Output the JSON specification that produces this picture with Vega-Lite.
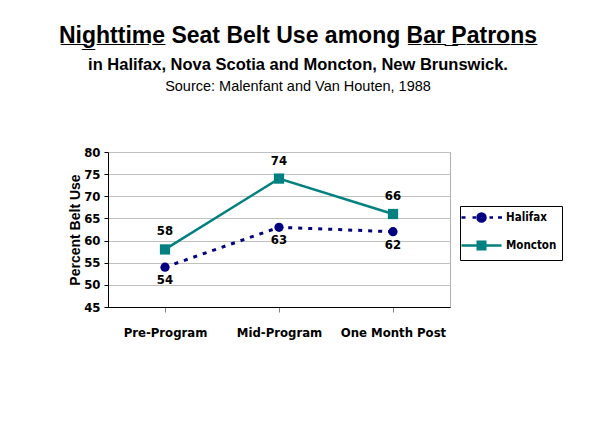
{
  "$schema": "https://vega.github.io/schema/vega-lite/v6.json",
  "background": "white",
  "padding": {"left": 59, "top": 24, "right": 10, "bottom": 10},
  "autosize": {"type": "pad"},
  "title": {
    "text": "N̲i̲g̲h̲t̲t̲i̲m̲e̲ Seat Belt Use among B̲a̲r̲ ̲P̲a̲t̲r̲o̲n̲s̲",
    "subtitle": "in Halifax, Nova Scotia and Moncton, New Brunswick.",
    "font": "Liberation Sans",
    "fontSize": 23,
    "fontWeight": "bold",
    "color": "black",
    "subtitleFont": "Liberation Sans",
    "subtitleFontSize": 16.5,
    "subtitleFontWeight": "bold",
    "subtitleColor": "black",
    "subtitlePadding": 9,
    "anchor": "middle",
    "frame": "group",
    "dx": 19,
    "offset": 5
  },
  "vconcat": [
    {
      "title": {
        "text": "Source: Malenfant and Van Houten, 1988",
        "font": "Liberation Sans",
        "fontSize": 14.5,
        "fontWeight": "normal",
        "color": "black",
        "anchor": "middle",
        "dx": 19,
        "offset": 52
      },
      "width": 342,
      "height": 155,
      "data": {
        "values": [
          {"period": "Pre-Program", "city": "Halifax", "value": 54},
          {"period": "Mid-Program", "city": "Halifax", "value": 63},
          {"period": "One Month Post", "city": "Halifax", "value": 62},
          {"period": "Pre-Program", "city": "Moncton", "value": 58},
          {"period": "Mid-Program", "city": "Moncton", "value": 74},
          {"period": "One Month Post", "city": "Moncton", "value": 66}
        ]
      },
      "encoding": {
        "x": {
          "field": "period",
          "type": "nominal",
          "sort": ["Pre-Program", "Mid-Program", "One Month Post"],
          "scale": {"paddingInner": 0, "paddingOuter": 0},
          "axis": {
            "title": null,
            "labelAngle": 0,
            "bandPosition": 0,
            "domainColor": "black",
            "tickColor": "#808080",
            "tickSize": 5,
            "labelPadding": 14,
            "labelFont": "DejaVu Sans Condensed, Liberation Sans, sans-serif",
            "labelFontSize": 13,
            "labelFontWeight": "bold",
            "labelColor": "black",
            "grid": false
          }
        },
        "y": {
          "field": "value",
          "type": "quantitative",
          "scale": {"domain": [45, 80], "nice": false, "zero": false},
          "axis": {
            "title": "Percent Belt Use",
            "titleFont": "Liberation Sans",
            "titleFontSize": 14,
            "titleFontWeight": "bold",
            "titleColor": "black",
            "titlePadding": 1,
            "values": [45, 50, 55, 60, 65, 70, 75, 80],
            "domainColor": "black",
            "tickColor": "black",
            "tickSize": 4,
            "labelPadding": 4,
            "labelFont": "DejaVu Sans Condensed, Liberation Sans, sans-serif",
            "labelFontSize": 13,
            "labelFontWeight": "bold",
            "labelColor": "black",
            "grid": true,
            "gridColor": "#c0c0c0",
            "gridWidth": 1
          }
        }
      },
      "layer": [
        {
          "transform": [{"filter": "datum.city === 'Halifax'"}],
          "mark": {"type": "line", "color": "#000080", "strokeWidth": 3, "strokeDash": [4, 6]},
          "encoding": {}
        },
        {
          "transform": [{"filter": "datum.city === 'Moncton'"}],
          "mark": {"type": "line", "color": "#008080", "strokeWidth": 2.5},
          "encoding": {}
        },
        {
          "transform": [{"filter": "datum.city === 'Halifax'"}],
          "mark": {"type": "point", "shape": "circle", "filled": true, "opacity": 1, "color": "#000080", "size": 85}
        },
        {
          "transform": [{"filter": "datum.city === 'Moncton'"}],
          "mark": {"type": "point", "shape": "square", "filled": true, "opacity": 1, "color": "#008080", "size": 105}
        },
        {
          "mark": {"type": "point", "filled": true, "opacity": 0},
          "encoding": {
            "fill": {
              "field": "city",
              "type": "nominal",
              "scale": {"domain": ["Halifax", "Moncton"], "range": ["#000080", "#008080"]},
              "legend": {
                "title": null,
                "orient": "none",
                "legendX": 352,
                "legendY": 54,
                "padding": 5,
                "rowPadding": 9,
                "strokeColor": "black",
                "fillColor": "white",
                "symbolSize": 100,
                "symbolStrokeWidth": 2.5,
                "symbolOffset": 10,
                "labelOffset": 18,
                "labelFont": "DejaVu Sans Condensed, Liberation Sans, sans-serif",
                "labelFontSize": 11.5,
                "labelFontWeight": "bold",
                "labelColor": "black",
                "symbolOpacity": 1
              }
            },
            "stroke": {
              "field": "city",
              "type": "nominal",
              "scale": {"domain": ["Halifax", "Moncton"], "range": ["#000080", "#008080"]}
            },
            "shape": {
              "field": "city",
              "type": "nominal",
              "scale": {
                "domain": ["Halifax", "Moncton"],
                "range": [
                  "M-4,0H-3.2M-1.8,0H-1.1M1.6,0H2.3M3.3,0H4.1M-0.8,0A0.8,0.8 0 1,1 0.8,0A0.8,0.8 0 1,1 -0.8,0ZM-0.6,0A0.6,0.6 0 1,1 0.6,0A0.6,0.6 0 1,1 -0.6,0ZM-0.4,0A0.4,0.4 0 1,1 0.4,0A0.4,0.4 0 1,1 -0.4,0ZM-0.2,0A0.2,0.2 0 1,1 0.2,0A0.2,0.2 0 1,1 -0.2,0ZM-0.05,0A0.05,0.05 0 1,1 0.05,0A0.05,0.05 0 1,1 -0.05,0Z",
                  "M-4,0H4M-0.75,-0.75H0.75V0.75H-0.75ZM-0.55,-0.55H0.55V0.55H-0.55ZM-0.35,-0.35H0.35V0.35H-0.35ZM-0.15,-0.15H0.15V0.15H-0.15Z"
                ]
              }
            }
          }
        },
        {
          "transform": [{"filter": "datum.city === 'Moncton'"}],
          "mark": {"type": "text", "dy": -18, "font": "DejaVu Sans Condensed, Liberation Sans, sans-serif", "fontSize": 13, "fontWeight": "bold", "color": "black", "baseline": "middle"},
          "encoding": {"text": {"field": "value", "type": "quantitative"}}
        },
        {
          "transform": [{"filter": "datum.city === 'Halifax'"}],
          "mark": {"type": "text", "dy": 13, "font": "DejaVu Sans Condensed, Liberation Sans, sans-serif", "fontSize": 13, "fontWeight": "bold", "color": "black", "baseline": "middle"},
          "encoding": {"text": {"field": "value", "type": "quantitative"}}
        }
      ]
    }
  ],
  "config": {
    "view": {"stroke": "#b0b0b0"},
    "font": "Liberation Sans"
  }
}
